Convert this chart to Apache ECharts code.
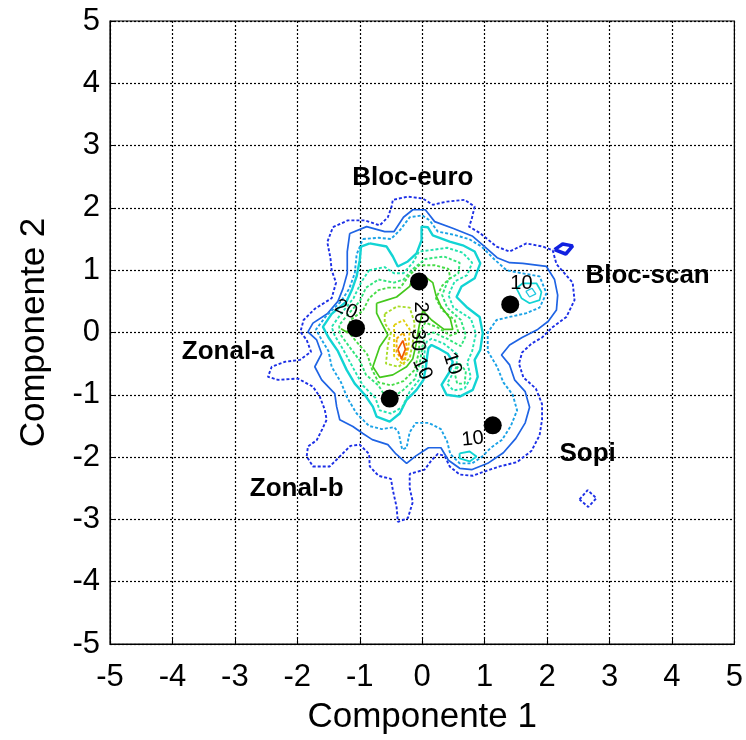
<!DOCTYPE html>
<html><head><meta charset="utf-8">
<script src="https://cdn.jsdelivr.net/npm/echarts@6/dist/echarts.min.js"></script>
<style>html,body{margin:0;padding:0;background:#fff}#c{width:746px;height:740px}</style>
</head><body><div id="c"></div>
<script>
// ---- data (data coordinates) ----
const xTicks = [-5,-4,-3,-2,-1,0,1,2,3,4,5];
const yTicks = [-5,-4,-3,-2,-1,0,1,2,3,4,5];

const groupNames = ['Bloc-euro','Zonal-a','Zonal-b','Bloc-scan','Sopi'];
const groupDots = [[-0.05,0.82],[-1.06,0.07],[-0.52,-1.06],[1.41,0.45],[1.13,-1.49]];
const groupLabelPos = [[-0.15,2.48],[-3.11,-0.31],[-2.01,-2.51],[3.61,0.91],[2.65,-1.95]];

const levelTexts = ['20','10','10','20','30','10','10'];
const levelTextPos = [[-1.22,0.37],[1.59,0.78],[0.81,-1.71],[-0.03,0.32],[-0.08,-0.12],[0.0,-0.58],[0.48,-0.5]];
const levelTextRot = [-25,0,6,-90,-90,-65,-72];

const L1_outer = [[-1.43,1.69],[-1.19,1.80],[-0.92,1.80],[-0.68,1.72],[-0.55,1.85],[-0.49,2.02],[-0.47,2.13],[-0.23,2.18],[0.01,2.15],[0.17,2.05],[0.39,2.10],[0.68,2.13],[0.84,2.02],[0.79,1.81],[0.75,1.7],[0.92,1.6],[1.19,1.38],[1.40,1.3],[1.67,1.43],[1.93,1.38],[2.09,1.32],[2.15,1.1],[2.41,0.8],[2.44,0.52],[2.31,0.25],[2.08,0.08],[1.92,-0.08],[1.75,-0.18],[1.6,-0.32],[1.55,-0.5],[1.62,-0.72],[1.82,-0.9],[1.92,-1.15],[1.92,-1.4],[1.88,-1.65],[1.75,-1.9],[1.52,-2.08],[1.24,-2.15],[1.03,-2.22],[0.81,-2.3],[0.6,-2.28],[0.44,-2.15],[0.36,-1.98],[0.25,-1.95],[0.15,-2.05],[0.04,-2.2],[-0.2,-2.27],[-0.2,-2.5],[-0.15,-2.72],[-0.23,-2.98],[-0.39,-3.04],[-0.41,-2.8],[-0.47,-2.53],[-0.5,-2.35],[-0.7,-2.3],[-0.84,-2.15],[-0.85,-1.95],[-1.0,-1.8],[-1.15,-1.82],[-1.32,-1.99],[-1.48,-2.15],[-1.75,-2.15],[-1.85,-1.99],[-1.83,-1.83],[-1.69,-1.73],[-1.6,-1.55],[-1.53,-1.40],[-1.56,-1.24],[-1.64,-1.03],[-1.75,-0.87],[-1.99,-0.74],[-2.31,-0.76],[-2.47,-0.71],[-2.41,-0.55],[-2.2,-0.47],[-1.96,-0.44],[-1.78,-0.31],[-1.85,-0.12],[-1.95,0.01],[-1.9,0.2],[-1.72,0.38],[-1.45,0.55],[-1.38,0.8],[-1.45,1.0],[-1.47,1.2],[-1.52,1.45],[-1.43,1.69]];
const L1_scanBlob = [[2.12,1.33],[2.25,1.42],[2.41,1.39],[2.3,1.26],[2.12,1.33]];
const L1_sopiLoop = [[2.52,-2.68],[2.65,-2.53],[2.79,-2.66],[2.66,-2.80],[2.52,-2.68]];

const L2_main = [[-1.16,1.59],[-0.89,1.70],[-0.6,1.62],[-0.45,1.62],[-0.3,1.85],[-0.15,1.97],[0.05,1.97],[0.2,1.78],[0.5,1.67],[0.8,1.55],[1.0,1.38],[1.2,1.2],[1.4,1.12],[1.61,1.11],[1.99,1.06],[2.12,0.85],[2.17,0.6],[2.15,0.36],[2.02,0.18],[1.85,0.05],[1.6,-0.08],[1.40,-0.2],[1.27,-0.36],[1.40,-0.52],[1.48,-0.76],[1.65,-0.95],[1.72,-1.2],[1.65,-1.45],[1.5,-1.7],[1.3,-1.93],[1.05,-2.1],[0.8,-2.2],[0.6,-2.18],[0.42,-2.05],[0.3,-1.85],[0.1,-1.85],[-0.1,-1.98],[-0.25,-2.1],[-0.42,-1.95],[-0.55,-1.8],[-0.8,-1.72],[-0.95,-1.62],[-1.11,-1.51],[-1.32,-1.40],[-1.37,-1.19],[-1.4,-0.98],[-1.61,-0.76],[-1.72,-0.55],[-1.61,-0.34],[-1.69,-0.12],[-1.83,0.01],[-1.75,0.15],[-1.52,0.3],[-1.35,0.5],[-1.27,0.7],[-1.2,0.95],[-1.2,1.3],[-1.16,1.59]];

const L3_main = [[-0.95,1.5],[-0.7,1.52],[-0.5,1.5],[-0.35,1.65],[-0.2,1.85],[0.0,1.88],[0.12,1.8],[0.25,1.62],[0.5,1.57],[0.75,1.5],[0.95,1.38],[1.15,1.18],[1.35,1.0],[1.6,0.95],[1.88,0.9],[1.99,0.63],[1.88,0.4],[1.67,0.31],[1.4,0.25],[1.19,0.2],[1.05,0.0],[1.05,-0.3],[1.2,-0.55],[1.3,-0.8],[1.45,-1.0],[1.52,-1.25],[1.42,-1.5],[1.28,-1.72],[1.1,-1.85],[0.95,-2.0],[0.8,-2.1],[0.6,-2.1],[0.45,-1.95],[0.4,-1.75],[0.3,-1.55],[0.1,-1.45],[-0.1,-1.45],[-0.2,-1.6],[-0.25,-1.85],[-0.32,-1.88],[-0.38,-1.6],[-0.45,-1.52],[-0.65,-1.55],[-0.85,-1.5],[-1.05,-1.3],[-1.2,-1.05],[-1.3,-0.8],[-1.45,-0.55],[-1.5,-0.3],[-1.62,-0.1],[-1.7,0.05],[-1.55,0.25],[-1.3,0.5],[-1.17,0.7],[-1.08,0.95],[-1.05,1.25],[-0.95,1.5]];

const L4_main = [[-0.84,1.43],[-0.57,1.38],[-0.47,1.22],[-0.39,1.06],[-0.23,1.14],[-0.09,1.27],[-0.01,1.48],[-0.01,1.70],[0.09,1.69],[0.17,1.56],[0.44,1.46],[0.65,1.40],[0.84,1.30],[0.93,1.11],[0.84,0.87],[0.63,0.74],[0.55,0.57],[0.71,0.41],[0.92,0.25],[0.97,-0.01],[0.93,-0.28],[0.84,-0.44],[0.89,-0.71],[0.81,-0.92],[0.60,-1.03],[0.39,-1.0],[0.31,-0.84],[0.44,-0.63],[0.49,-0.47],[0.41,-0.34],[0.25,-0.25],[0.15,-0.2],[0.1,-0.25],[0.08,-0.38],[0.06,-0.55],[0.02,-0.76],[-0.09,-0.92],[-0.25,-1.08],[-0.36,-1.30],[-0.52,-1.43],[-0.73,-1.35],[-0.79,-1.19],[-0.92,-1.0],[-1.08,-0.82],[-1.21,-0.60],[-1.35,-0.3],[-1.5,-0.08],[-1.59,0.09],[-1.45,0.3],[-1.21,0.5],[-1.12,0.7],[-1.05,0.9],[-1.0,1.16],[-0.98,1.38],[-0.84,1.43]];
const L4_scan = [[1.51,0.71],[1.61,0.79],[1.83,0.79],[1.91,0.65],[1.88,0.52],[1.72,0.47],[1.59,0.55],[1.51,0.71]];
const L4_scanInner = [[1.66,0.66],[1.76,0.71],[1.82,0.62],[1.72,0.57],[1.66,0.66]];
const L4_south = [[0.6,-1.94],[0.76,-1.91],[0.87,-1.99],[0.76,-2.07],[0.6,-2.02],[0.6,-1.94]];

const L5_main = [[-0.85,1.0],[-0.6,1.05],[-0.45,0.95],[-0.3,0.95],[-0.15,1.12],[-0.05,1.3],[0.12,1.32],[0.4,1.36],[0.65,1.28],[0.8,1.12],[0.72,0.92],[0.52,0.82],[0.42,0.6],[0.5,0.4],[0.78,0.22],[0.86,-0.02],[0.8,-0.3],[0.72,-0.48],[0.78,-0.72],[0.68,-0.9],[0.5,-0.93],[0.4,-0.82],[0.55,-0.55],[0.56,-0.35],[0.35,-0.18],[0.15,-0.1],[0.07,-0.15],[0.04,-0.3],[0.02,-0.5],[-0.04,-0.75],[-0.2,-0.95],[-0.32,-1.2],[-0.5,-1.3],[-0.68,-1.25],[-0.75,-1.05],[-0.95,-0.85],[-1.1,-0.58],[-1.25,-0.3],[-1.4,-0.05],[-1.45,0.09],[-1.3,0.3],[-1.1,0.55],[-0.98,0.8],[-0.85,1.0]];

const L6_main = [[-0.7,0.85],[-0.45,0.8],[-0.3,0.85],[-0.15,1.02],[0.05,1.18],[0.35,1.22],[0.6,1.12],[0.58,0.95],[0.42,0.85],[0.32,0.6],[0.4,0.4],[0.62,0.2],[0.7,-0.05],[0.62,-0.22],[0.4,-0.1],[0.18,0.0],[0.04,-0.05],[0.0,-0.25],[-0.04,-0.5],[-0.12,-0.75],[-0.3,-0.92],[-0.48,-1.05],[-0.62,-0.98],[-0.7,-0.85],[-0.9,-0.68],[-1.0,-0.45],[-1.15,-0.25],[-1.32,-0.02],[-1.33,0.12],[-1.18,0.3],[-1.0,0.5],[-0.9,0.72],[-0.7,0.85]];
const L6_east = [[0.6,-0.5],[0.7,-0.62],[0.68,-0.82],[0.56,-0.82],[0.52,-0.65],[0.6,-0.5]];

const L7_main = [[-0.55,0.72],[-0.35,0.72],[-0.22,0.9],[-0.05,1.08],[0.2,1.08],[0.42,1.02],[0.45,0.88],[0.32,0.75],[0.22,0.55],[0.32,0.36],[0.52,0.2],[0.58,0.0],[0.45,-0.05],[0.25,0.08],[0.05,0.16],[-0.04,0.0],[-0.05,-0.3],[-0.12,-0.6],[-0.3,-0.78],[-0.5,-0.85],[-0.7,-0.8],[-0.8,-0.6],[-0.88,-0.35],[-1.05,-0.15],[-1.2,0.03],[-1.15,0.2],[-0.95,0.35],[-0.85,0.55],[-0.7,0.68],[-0.55,0.72]];

const L8_main = [[-0.73,0.47],[-0.57,0.52],[-0.41,0.57],[-0.2,0.74],[-0.15,0.89],[0.01,0.92],[0.17,0.8],[0.22,0.6],[0.3,0.42],[0.45,0.22],[0.49,0.05],[0.35,0.05],[0.15,0.2],[0.01,0.35],[-0.05,0.1],[-0.1,-0.2],[-0.15,-0.42],[-0.25,-0.55],[-0.47,-0.68],[-0.68,-0.72],[-0.79,-0.55],[-0.68,-0.23],[-0.55,-0.04],[-0.65,0.15],[-0.73,0.31],[-0.73,0.47]];
const L8_west = [[-1.3,0.06],[-1.2,0.0],[-1.1,0.08]];

const L9_main = [[-0.6,0.3],[-0.4,0.42],[-0.2,0.4],[-0.12,0.15],[-0.15,-0.15],[-0.2,-0.42],[-0.38,-0.55],[-0.58,-0.5],[-0.55,-0.2],[-0.5,0.0],[-0.6,0.15],[-0.6,0.3]];
const L10_main = [[-0.45,0.12],[-0.3,0.2],[-0.2,0.05],[-0.22,-0.25],[-0.3,-0.52],[-0.45,-0.38],[-0.45,-0.1],[-0.45,0.12]];
const L10_inner = [[-0.41,-0.1],[-0.3,0.0],[-0.24,-0.25],[-0.3,-0.46],[-0.41,-0.32],[-0.41,-0.1]];
const L11_peak = [[-0.39,-0.27],[-0.31,-0.13],[-0.27,-0.27],[-0.33,-0.42],[-0.39,-0.27]];

// ---- styles ----
const DOT = [3,2];
const contourSpecs = [
  [L1_outer,'#1c2fe6',DOT,1.9],[L1_sopiLoop,'#1c2fe6',DOT,1.9],[L1_scanBlob,'#1020e0','solid',3.5],
  [L2_main,'#1f64e4','solid',1.7],
  [L3_main,'#1aa2e6',DOT,1.9],
  [L4_main,'#12d4d4','solid',2.4],[L4_scan,'#12d4d4','solid',1.7],[L4_scanInner,'#20c8e0','solid',1.3],[L4_south,'#12d4d4','solid',1.9],
  [L5_main,'#22e4b0',DOT,1.9],
  [L6_main,'#30e47c',DOT,1.9],[L6_east,'#30e47c',DOT,1.9],
  [L7_main,'#48dc48',DOT,1.9],
  [L8_main,'#44c81c','solid',1.7],[L8_west,'#44c81c','solid',1.7],
  [L9_main,'#a8dc28',DOT,1.9],
  [L10_main,'#e0d010',DOT,1.9],[L10_inner,'#f0a800',DOT,1.9],
  [L11_peak,'#f05a00','solid',1.7]
];
const FONT = 'Liberation Sans, Arial, Helvetica, sans-serif';

const series = contourSpecs.map(([d,c,t,w]) => ({
  type:'line', data:d, showSymbol:false, symbol:'none', smooth:false, silent:true,
  lineStyle:{color:c, width:w, type:t}, z:2, animation:false
}));
series.push({
  type:'scatter', z:5, silent:true, symbolSize:0, itemStyle:{opacity:1},
  data: levelTexts.map((t,i)=>({value:levelTextPos[i], name:t, label:{rotate:levelTextRot[i]}})),
  label:{show:true, position:'inside', formatter:p=>p.name, color:'#000', fontSize:20, fontFamily:FONT}
});
series.push({
  type:'scatter', z:6, silent:true, symbol:'circle', symbolSize:18,
  itemStyle:{color:'#000', opacity:1}, data: groupDots
});
series.push({
  type:'scatter', z:7, silent:true, symbolSize:0, itemStyle:{opacity:1},
  data: groupNames.map((n,i)=>({value:groupLabelPos[i], name:n})),
  label:{show:true, position:'inside', formatter:p=>p.name, color:'#000', fontSize:26, fontWeight:'bold', fontFamily:FONT}
});

const axisCommon = {
  type:'value', min:xTicks[0], max:xTicks[xTicks.length-1], interval:1,
  nameLocation:'middle',
  nameTextStyle:{fontSize:35, color:'#000', fontFamily:FONT},
  axisLine:{show:true, onZero:false, lineStyle:{color:'#000', width:1}},
  axisTick:{show:true, inside:true, length:6, lineStyle:{color:'#000'}},
  axisLabel:{fontSize:31, color:'#000', fontFamily:FONT},
  splitLine:{show:true, lineStyle:{color:'#000', type:[2,2], width:1.2}}
};
const chart = echarts.init(document.getElementById('c'), null, {renderer:'canvas'});
chart.setOption({
  animation:false,
  backgroundColor:'#fff',
  grid:{left:110, right:11, top:21, bottom:96, show:true, borderColor:'#000', borderWidth:1.2},
  xAxis: Object.assign({}, axisCommon, {name:'Componente 1', nameGap:56, axisLabel:Object.assign({}, axisCommon.axisLabel, {margin:18})}),
  yAxis: Object.assign({}, axisCommon, {min:yTicks[0], max:yTicks[yTicks.length-1], name:'Componente 2', nameGap:58, axisLabel:Object.assign({}, axisCommon.axisLabel, {margin:10})}),
  series: series
});
</script></body></html>
